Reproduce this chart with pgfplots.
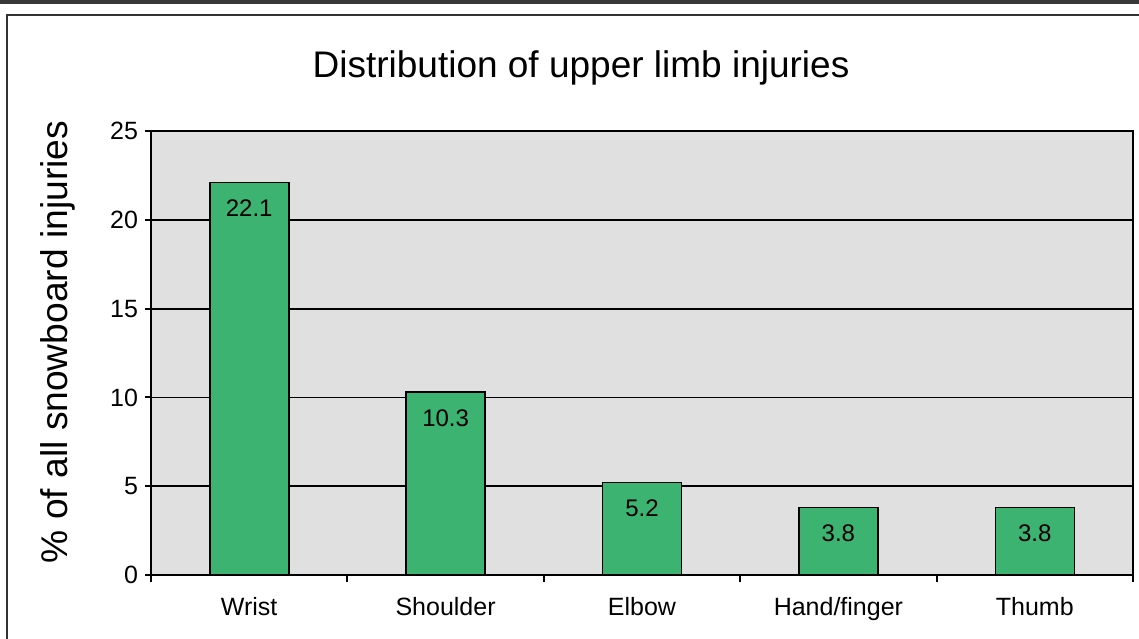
\documentclass[border=0pt]{standalone}
\usepackage{pgfplots}
\pgfplotsset{compat=1.18}
\usepackage{fontspec}
\setmainfont{Liberation Sans}
\definecolor{bargreen}{RGB}{60,179,113}
\definecolor{plotgray}{RGB}{224,224,224}
\begin{document}
\begin{tikzpicture}
\useasboundingbox (0,0) rectangle (569.5pt,319pt);
\fill[black!78] (0,317pt) rectangle (569.5pt,319pt);
\begin{scope}
\clip (0,0) rectangle (569.5pt,319pt);
\draw[black!80, line width=1pt] (3.5pt,-5pt) -- (3.5pt,311.5pt) -- (580pt,311.5pt);
\end{scope}
\node[font=\fontsize{18.5}{20}\selectfont] at (290.5pt,285pt) {Distribution of upper limb injuries};
\node[font=\fontsize{18.6}{20}\selectfont, rotate=90] at (29pt,148pt) {\% of all snowboard injuries};
\begin{axis}[
  at={(75.5pt,31.5pt)}, anchor=south west, scale only axis,
  width=491pt, height=222pt,
  xmin=-0.5, xmax=4.5, ymin=0, ymax=25,
  ytick={0,5,...,25},
  xtick={0,...,4},
  xticklabels={Wrist,Shoulder,Elbow,Hand/finger,Thumb},
  minor xtick={-0.5,0.5,...,4.5},
  tick pos=left, tick align=outside,
  major tick length=3pt, minor tick length=3.5pt,
  major x tick style={draw=none},
  every tick/.style={black, line width=1pt},
  ymajorgrids, grid style={black, line width=0.9pt},
  axis line style={line width=1pt},
  axis background/.style={fill=plotgray},
  /pgf/number format/assume math mode=true,
  tick label style={font=\fontsize{12.5}{13}\selectfont},
  xticklabel style={yshift=-4.5pt},
  ybar, bar width=39.5pt,
  nodes near coords,
  nodes near coords style={anchor=center, yshift=-13pt, font=\fontsize{12}{13}\selectfont},
]
\addplot[fill=bargreen, draw=black, line width=0.8pt] coordinates {(0,22.1) (1,10.3) (2,5.2) (3,3.8) (4,3.8)};
\end{axis}
\end{tikzpicture}
\end{document}
